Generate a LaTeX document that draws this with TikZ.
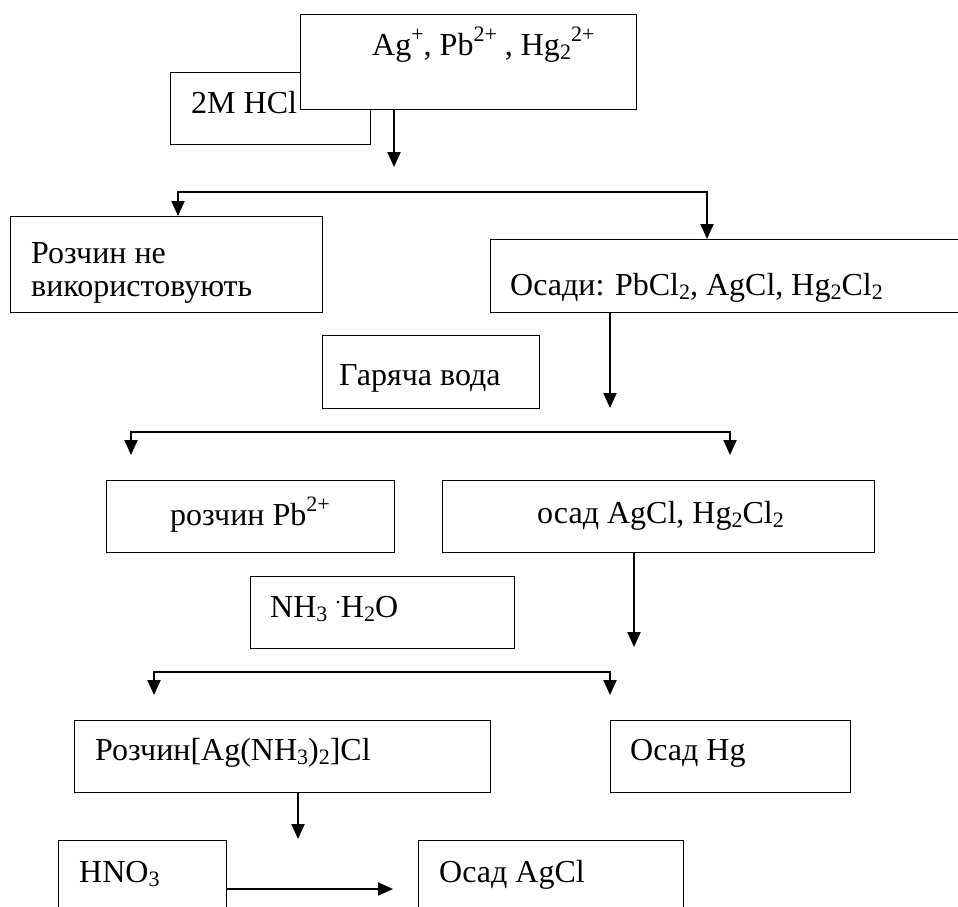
\documentclass[tikz,border=0pt]{standalone}
\usepackage{fontspec}
\setmainfont{Liberation Serif}
\usetikzlibrary{arrows.meta}
\newcommand\sbs[1]{\raisebox{-0.15em}{\fontsize{22}{22}\selectfont #1}}
\newcommand\sps[1]{\raisebox{0.42em}{\fontsize{22}{22}\selectfont #1}}
\begin{document}
\begin{tikzpicture}[x=1pt,y=-1pt,
  box/.style={draw,line width=1.4pt,fill=white,inner sep=0pt,anchor=north west},
  txt/.style={inner sep=0pt,anchor=base west,font=\fontsize{32}{38}\selectfont},
  conn/.style={line width=2pt,-{Triangle[length=15pt,width=13pt]}},
  conn2/.style={line width=2pt,{Triangle[length=15pt,width=13pt]}-{Triangle[length=15pt,width=13pt]}}]
\useasboundingbox (0,0) rectangle (958,906);
\clip (0,0) rectangle (958,906);
\fill[white] (0,0) rectangle (958,906);

% boxes
\node[box,minimum width=200pt,minimum height=72pt] (hcl) at (170,72) {};
\node[txt] (thcl) at (191,113) {2M HCl};
\node[box,minimum width=336pt,minimum height=95pt] (top) at (300,14) {};
\node[txt] (ttop) at (372,55) {Ag\sps{+}, Pb\sps{2+} , Hg\sbs{2}\sps{2+}};

\node[box,minimum width=312pt,minimum height=96pt] (roz) at (10,216) {};
\node[txt] (troz1) at (31,263) {Розчин не};
\node[txt] (troz2) at (31,296) {використовують};

\node[box,minimum width=480pt,minimum height=73pt] (osady) at (490,239) {};
\node[txt] (tosady) at (510,295) {Осади: PbCl\sbs{2}, AgCl, Hg\sbs{2}Cl\sbs{2}};

\node[box,minimum width=217pt,minimum height=73pt] (hot) at (322,335) {};
\node[txt] (thot) at (339,385) {Гаряча вода};

\node[box,minimum width=288pt,minimum height=72pt] (pb) at (106,480) {};
\node[txt] (tpb) at (170,525) {розчин Pb\sps{2+}};

\node[box,minimum width=432pt,minimum height=72pt] (osad) at (442,480) {};
\node[txt] (tosad) at (537,523) {осад AgCl, Hg\sbs{2}Cl\sbs{2}};

\node[box,minimum width=264pt,minimum height=72pt] (nh3) at (250,576) {};
\node[txt] (tnh3) at (270,617) {NH\sbs{3} \sps{.}H\sbs{2}O};

\node[box,minimum width=416pt,minimum height=72pt] (ag) at (74,720) {};
\node[txt] (tag) at (95,760) {Розчин[Ag(NH\sbs{3})\sbs{2}]Cl};

\node[box,minimum width=240pt,minimum height=72pt] (hg) at (610,720) {};
\node[txt] (thg) at (630,760) {Осад Hg};

\node[box,minimum width=168pt,minimum height=90pt] (hno) at (58,840) {};
\node[txt] (thno) at (79,882) {HNO\sbs{3}};

\node[box,minimum width=265pt,minimum height=90pt] (agcl) at (418,840) {};
\node[txt] (tagcl) at (439,882) {Осад AgCl};

% connector points
\coordinate (a1) at (394,167);
\coordinate (b1L) at (178,192);
\coordinate (b1R) at (707,192);
\coordinate (a2) at (610,408);
\coordinate (b2L) at (131,432);
\coordinate (b2R) at (730,432);
\coordinate (e2L) at (131,455);
\coordinate (e2R) at (730,455);
\coordinate (a3) at (634,647);
\coordinate (b3L) at (154,672);
\coordinate (b3R) at (610,672);
\coordinate (e3L) at (154,695);
\coordinate (e3R) at (610,695);
\coordinate (a4) at (298,839);
\coordinate (a5) at (393,889);

% connectors
\draw[conn] (top.south -| a1) -- (a1);
\draw[conn2] (roz.north -| b1L) -- (b1L) -- (b1R) -- (osady.north -| b1R);
\draw[conn] (osady.south -| a2) -- (a2);
\draw[conn2] (e2L) -- (b2L) -- (b2R) -- (e2R);
\draw[conn] (osad.south -| a3) -- (a3);
\draw[conn2] (e3L) -- (b3L) -- (b3R) -- (e3R);
\draw[conn] (ag.south -| a4) -- (a4);
\draw[conn] (hno.east |- a5) -- (a5);
\end{tikzpicture}
\end{document}
